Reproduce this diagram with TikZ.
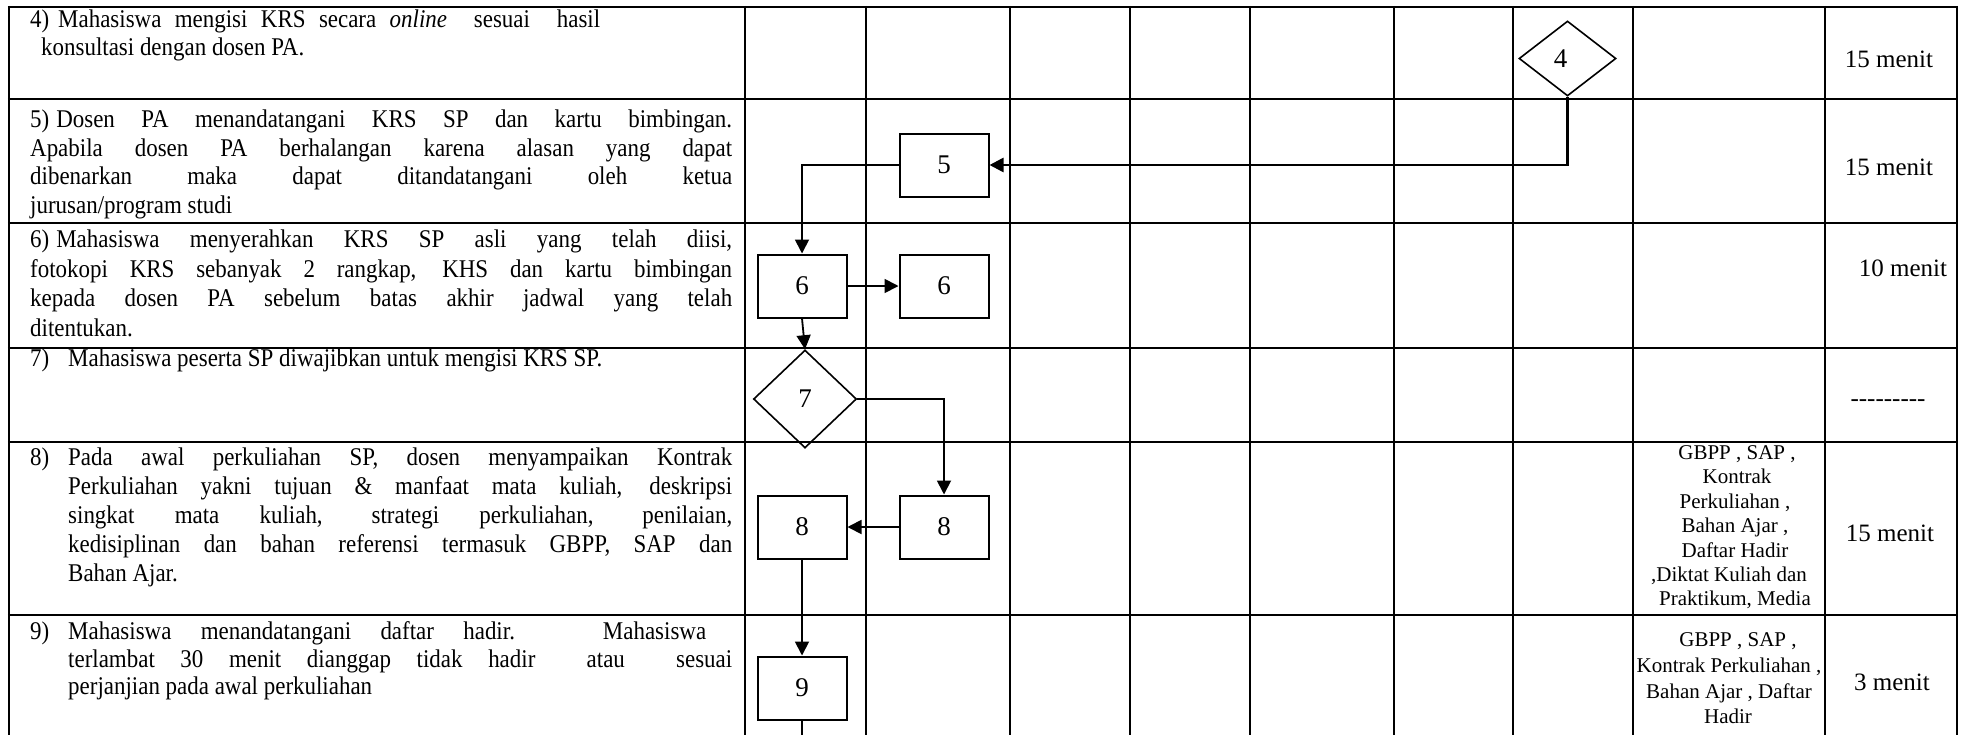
\documentclass[tikz,border=0pt]{standalone}
\usepackage{fontspec}
\setmainfont{Liberation Serif}
\newfontfamily\bodyfont[FakeStretch=0.9]{Liberation Serif}
\usetikzlibrary{arrows.meta,shapes.geometric}
\newcommand{\jl}[2]{\makebox[#1pt][s]{#2}}
\newcommand{\hy}{-\kern0pt}
\begin{document}
\begin{tikzpicture}[x=1pt,y=-1pt,
  gridline/.style={line width=2.4pt},
  txt/.style={anchor=base west,inner sep=0pt,font=\bodyfont\fontsize{25.5}{29}\selectfont},
  res/.style={anchor=base,inner sep=0pt,font=\fontsize{21}{25}\selectfont},
  tim/.style={anchor=base,inner sep=0pt,font=\fontsize{25}{29}\selectfont},
  procbox/.style={draw,line width=2pt,minimum width=89pt,minimum height=63pt,inner sep=0pt,font=\fontsize{27}{30}\selectfont},
  decis/.style={draw,diamond,line width=1.6pt,inner sep=0pt,font=\fontsize{27}{30}\selectfont},
  conn/.style={line width=1.8pt},
  arr/.style={conn,-{Triangle[length=14pt,width=14pt]}},
]
\useasboundingbox (0,0) rectangle (1967,734);
\fill[white] (0,0) rectangle (1967,734);
% table grid
\foreach \x in {9,745,866,1010,1130,1250,1394,1513,1633,1825,1957}
  \draw[gridline] (\x,5.8) -- (\x,740);
\foreach \y in {7,99,223,348,442,615}
  \draw[gridline] (7.8,\y) -- (1958.2,\y);
% row 4
\node[txt] (n4) at (30,27) {4)};
\node[txt] (t4a) at (58,27) {\jl{542}{Mahasiswa mengisi KRS secara \textit{online}\ \ sesuai\ \ hasil}};
\node[txt] (t4b) at (41,55) {konsultasi dengan dosen PA.};
% row 5
\node[txt] (t5a) at (30,127.5) {\jl{702}{5)\hspace{7pt}Dosen PA menandatangani KRS SP dan kartu bimbingan.}};
\node[txt] (t5b) at (30,156) {\jl{702}{Apabila dosen PA berhalangan karena alasan yang dapat}};
\node[txt] (t5c) at (30,184.5) {\jl{702}{dibenarkan maka dapat ditandatangani oleh ketua}};
\node[txt] (t5d) at (30,213) {jurusan/program studi};
% row 6
\node[txt] (t6a) at (30,247.5) {\jl{702}{6)\hspace{7pt}Mahasiswa menyerahkan KRS SP asli yang telah diisi,}};
\node[txt] (t6b) at (30,277) {\jl{702}{fotokopi KRS sebanyak 2 rangkap, KHS dan kartu bimbingan}};
\node[txt] (t6c) at (30,306.5) {\jl{702}{kepada dosen PA sebelum batas akhir jadwal yang telah}};
\node[txt] (t6d) at (30,336) {ditentukan.};
% row 7
\node[txt] (n7) at (30,366) {7)};
\node[txt] (t7a) at (68,366) {Mahasiswa peserta SP diwajibkan untuk mengisi KRS SP.};
% row 8
\node[txt] (n8) at (30,465.5) {8)};
\node[txt] (t8a) at (68,465.5) {\jl{664}{Pada awal perkuliahan SP, dosen menyampaikan Kontrak}};
\node[txt] (t8b) at (68,494.5) {\jl{664}{Perkuliahan yakni tujuan \& manfaat mata kuliah, deskripsi}};
\node[txt] (t8c) at (68,523.5) {\jl{664}{singkat mata kuliah, strategi perkuliahan, penilaian,}};
\node[txt] (t8d) at (68,552.5) {\jl{664}{kedisiplinan dan bahan referensi termasuk GBPP, SAP dan}};
\node[txt] (t8e) at (68,581.5) {Bahan Ajar.};
% row 9
\node[txt] (n9) at (30,639.5) {9)};
\node[txt] (t9a) at (68,639.5) {\jl{638}{Mahasiswa menandatangani daftar hadir.\ \ \ Mahasiswa}};
\node[txt] (t9b) at (68,667) {\jl{664}{terlambat 30 menit dianggap tidak hadir\ \ atau\ \ sesuai}};
\node[txt] (t9c) at (68,694.5) {perjanjian pada awal perkuliahan};
% resources column
\node[res] (r8a) at (1737,459) {GBPP , SAP ,};
\node[res] (r8b) at (1737,483) {Kontrak};
\node[res] (r8c) at (1735,508) {Perkuliahan ,};
\node[res] (r8d) at (1735,532) {Bahan Ajar ,};
\node[res] (r8e) at (1735,557) {Daftar Hadir};
\node[res] (r8f) at (1729,581) {,Diktat Kuliah dan};
\node[res] (r8g) at (1735,605) {Praktikum, Media};
\node[res] (r9a) at (1738,646) {GBPP , SAP ,};
\node[res] (r9b) at (1729,672) {Kontrak Perkuliahan ,};
\node[res] (r9c) at (1729,698) {Bahan Ajar , Daftar};
\node[res] (r9d) at (1728,723) {Hadir};
% time column
\node[tim] (m4) at (1889,67) {15 menit};
\node[tim] (m5) at (1889,175) {15 menit};
\node[tim] (m6) at (1903,276) {10 menit};
\node[tim] (m7) at (1888,406) {\hy\hy\hy\hy\hy\hy\hy\hy-};
\node[tim] (m8) at (1890,541) {15 menit};
\node[tim] (m9) at (1892,690) {3 menit};
% flow shapes
\node[decis,minimum width=97pt,minimum height=75pt] (d4) at (1567.5,58.5) {\raisebox{-8pt}{\hspace*{-14pt}4}};
\node[procbox] (b5) at (944,165) {5};
\node[procbox] (b6l) at (802,286) {6};
\node[procbox] (b6r) at (944,286) {6};
\node[decis,minimum width=103pt,minimum height=98pt] (d7) at (805,399) {7};
\node[procbox] (b8l) at (802,527) {8};
\node[procbox] (b8r) at (944,527) {8};
\node[procbox] (b9) at (802,688) {9};
\coordinate (bend) at (802,745);
% connectors
\draw[arr,line width=2.6pt] (d4.south) |- (b5.east);
\draw[arr] (b5.west) -| (b6l.north);
\draw[arr] (b6l.east) -- (b6r.west);
\draw[arr] (b6l.south) -- (d7.north);
\draw[arr] (d7.east) -| (b8r.north);
\draw[arr] (b8r.west) -- (b8l.east);
\draw[arr] (b8l.south) -- (b9.north);
\draw[conn] (b9.south) -- (bend);
\end{tikzpicture}
\end{document}
